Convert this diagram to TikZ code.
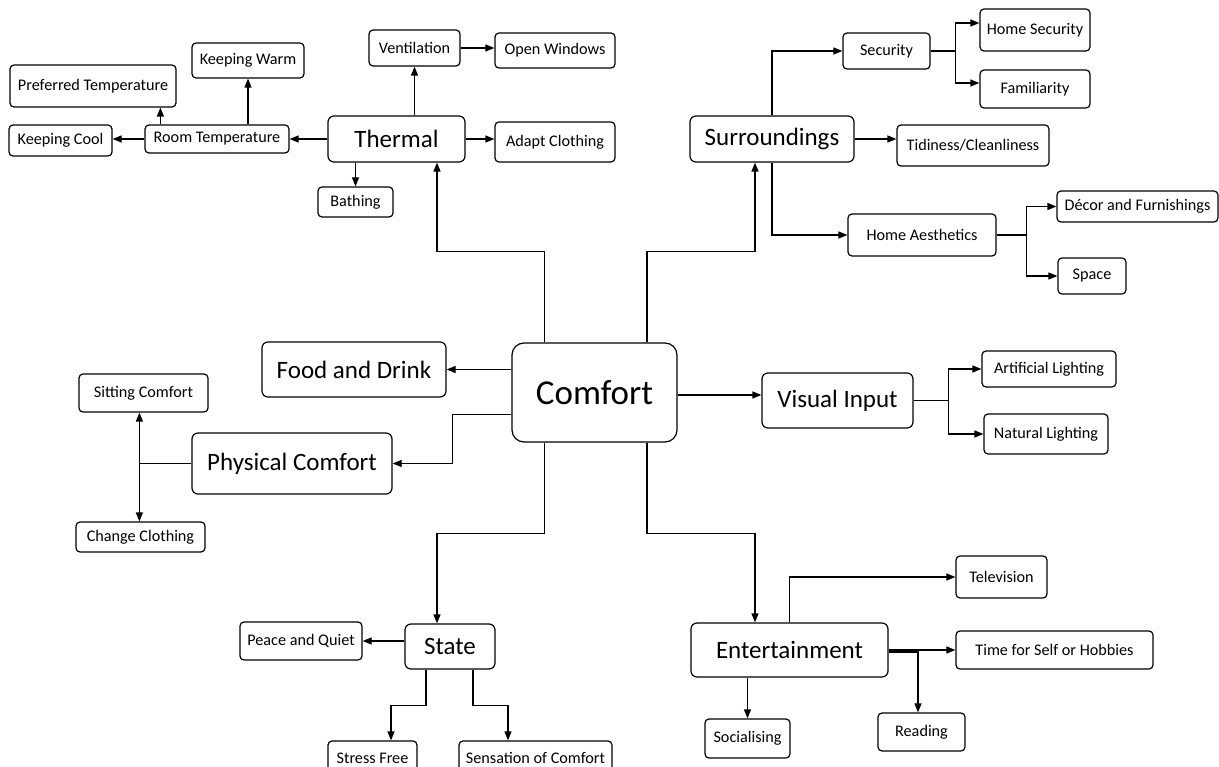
\documentclass[tikz,border=0pt]{standalone}
\usepackage{fontspec}
\setmainfont{Carlito}
\usetikzlibrary{arrows.meta,positioning}

\begin{document}
\begin{tikzpicture}[
    x = 1pt, y = -1pt, % screen-like units, y grows downwards
    > = {Triangle[length=9pt,width=7pt]}, % arrow head style
    line width = 1.2pt % line style
    ]

    \tikzset{
    wh/.style 2 args = {minimum width=#1pt, minimum height=#2pt},
    leaf/.style = {draw, rounded corners=4pt, inner sep=0pt,
        font=\fontsize{16.2}{19}\selectfont},
    topic/.style = {leaf, rounded corners=6pt,
        font=\fontsize{25}{30}\selectfont}
    }
    \useasboundingbox (0,0) rectangle (1219,767);

    % centre
    \node[topic, wh={165}{99}, rounded corners=12pt,
        font=\fontsize{35}{40}\selectfont] (comfort) at (594.5,392.5) {Comfort};

    % thermal
    \node[topic, wh={137}{46}] (thermal) at (396.5,139) {Thermal};
    \node[leaf, wh={144}{28}] (roomtemp) at (217,139) {Room Temperature};
    \node[leaf, wh={103}{31}] (cool) at (60.5,140.5) {Keeping Cool};
    \node[leaf, wh={166}{42}] (preftemp) at (93,86) {Preferred Temperature};
    \node[leaf, wh={112}{35}] (warm) at (248,60.5) {Keeping Warm};
    \node[leaf, wh={75}{30}] (bathing) at (355.5,202) {Bathing};
    \node[leaf, wh={91}{36}] (vent) at (414.5,48) {Ventilation};
    \node[leaf, wh={120}{35}] (windows) at (555,50.5) {Open Windows};
    \node[leaf, wh={120}{40}] (clothing) at (555,142) {Adapt Clothing};

    \draw[->] ([xshift=-50pt]comfort.north) -- ++(0,-91) -| ([xshift=40.5pt]thermal.south);
    \draw[->] (thermal) -- (roomtemp);
    \draw[->] (roomtemp.west) -- (roomtemp.west -| cool.east);
    \draw[->] ([xshift=16pt]roomtemp.north west) -- ([xshift=16pt]roomtemp.north west |- preftemp.south);
    \draw[->] (roomtemp.north -| warm.south) -- (warm.south);
    \draw[->] (thermal.south -| bathing.north) -- (bathing.north);
    \draw[->] (thermal.north -| vent.south) -- (vent.south);
    \draw[->] (vent.east) -- (vent.east -| windows.west);
    \draw[->] (thermal.east) -- (thermal.east -| clothing.west);

    % surroundings
    \node[topic, wh={164}{46}] (surr) at (772,139) {Surroundings};
    \node[leaf, wh={87}{36}] (security) at (886.5,51) {Security};
    \node[leaf, wh={110}{42}] (homesec) at (1035,30) {Home Security};
    \node[leaf, wh={110}{38}] (familiar) at (1035,89) {Familiarity};
    \node[leaf, wh={152}{41}] (tidy) at (973,145.5) {Tidiness/Cleanliness};
    \node[leaf, wh={148}{42}] (aesth) at (922,235) {Home Aesthetics};
    \node[leaf, wh={161}{31}] (decor) at (1137.5,206.5) {Décor and Furnishings};
    \node[leaf, wh={68}{36}] (space) at (1092,276) {Space};

    \draw[->] ([xshift=52.5pt]comfort.north) -- ++(0,-91) -| ([xshift=-17pt]surr.south);
    \draw[->] (surr.north) |- (security.west);
    \draw[->] (surr.east) -- (surr.east -| tidy.west);
    \draw[->] (surr.south) |- (aesth.west);
    \draw (security.east) -- ++(25,0) coordinate (secfork);
    \draw[->] (secfork) |- ([yshift=7pt]homesec.west);
    \draw[->] (secfork) |- ([yshift=6pt]familiar.west);
    \draw (aesth.east) -- ++(30,0) coordinate (aesfork);
    \draw[->] (aesfork) |- (decor.west);
    \draw[->] (aesfork) |- (space.west);

    % food, physical comfort
    \node[topic, wh={184}{55}] (food) at (354,369.5) {Food and Drink};
    \node[topic, wh={200}{61}] (physical) at (292,463.5) {Physical Comfort};
    \node[leaf, wh={129}{38}] (sitting) at (143.5,393) {Sitting Comfort};
    \node[leaf, wh={129}{30}] (changecl) at (140.5,537) {Change Clothing};

    \draw[->] (comfort.west |- food) -- (food.east);
    \draw[->] ([yshift=-22pt]comfort.west) -- ++(-59,0) |- (physical.east);
    \draw (physical.west) -- ++(-52,0) coordinate (physfork);
    \draw[->] (physfork) -- (physfork |- sitting.south);
    \draw[->] (physfork) -- (physfork |- changecl.north);

    % visual input
    \node[topic, wh={151}{55}] (visual) at (837.5,400.5) {Visual Input};
    \node[leaf, wh={134}{36}] (artificial) at (1049,369) {Artificial Lighting};
    \node[leaf, wh={124}{40}] (natural) at (1046,434) {Natural Lighting};

    \draw[->] ([yshift=-2.5pt]comfort.east) -- ([yshift=-2.5pt]comfort.east -| visual.west);
    \draw (visual.east) -- ++(35,0) coordinate (visfork);
    \draw[->] (visfork) |- (artificial.west);
    \draw[->] (visfork) |- (natural.west);

    % state
    \node[topic, wh={90}{45}] (state) at (450,646.5) {State};
    \node[leaf, wh={122}{38}] (peace) at (301,641) {Peace and Quiet};
    \node[leaf, wh={89}{34}] (stress) at (372.5,758) {Stress Free};
    \node[leaf, wh={153}{34}] (sensation) at (535.5,758) {Sensation of Comfort};

    \draw[->] ([xshift=-50pt]comfort.south) -- ++(0,91) -| ([xshift=-13pt]state.north);
    \draw[->] ([yshift=5.5pt]state.west) -- ([yshift=5.5pt]state.west -| peace.east);
    \draw[->] ([xshift=-24pt]state.south) -- ++(0,36) -| ([xshift=18.5pt]stress.north);
    \draw[->] ([xshift=23pt]state.south) -- ++(0,36) -| ([xshift=-27.5pt]sensation.north);

    % entertainment
    \node[topic, wh={197}{54}] (ent) at (789.5,650) {Entertainment};
    \node[leaf, wh={91}{42}] (tv) at (1001.5,577) {Television};
    \node[leaf, wh={197}{38}] (hobbies) at (1054.5,650) {Time for Self or Hobbies};
    \node[leaf, wh={85}{39}] (social) at (747.5,738.5) {Socialising};
    \node[leaf, wh={87}{38}] (reading) at (921.5,732) {Reading};

    \draw[->] ([xshift=52.5pt]comfort.south) -- ++(0,91) -| ([xshift=-34.5pt]ent.north);
    \draw[->] (ent.north) |- (tv.west);
    \draw[->] (ent.east) -- (hobbies.west);
    \draw[->] ([yshift=-2pt]ent.east) -| ([xshift=-3.5pt]reading.north);
    \draw[->] (ent.south -| social.north) -- (social.north);
\end{tikzpicture}
\end{document}
